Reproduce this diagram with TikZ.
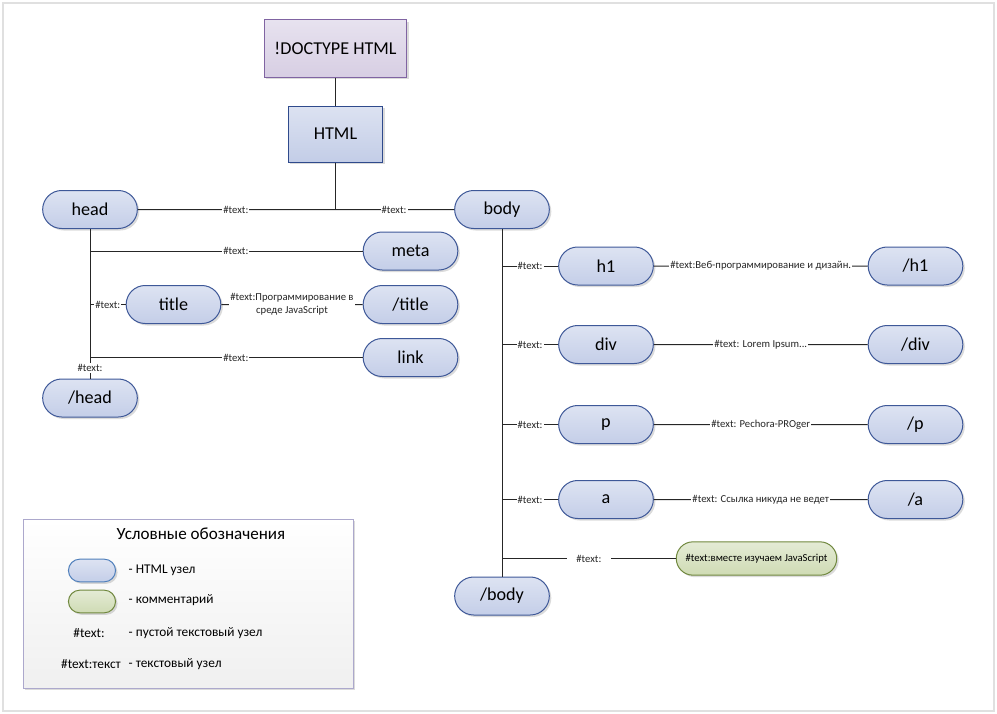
\documentclass[tikz,border=0pt]{standalone}
\usepackage{fontspec}
\setmainfont{Carlito}
\usetikzlibrary{shapes.misc,shadows}
\definecolor{tagTop}{RGB}{221,227,242}
\definecolor{tagBot}{RGB}{196,206,232}
\definecolor{tagLine}{RGB}{62,88,152}
\definecolor{docTop}{RGB}{231,226,239}
\definecolor{docBot}{RGB}{215,206,227}
\definecolor{docLine}{RGB}{128,100,162}
\definecolor{htmlTop}{RGB}{220,226,241}
\definecolor{htmlBot}{RGB}{195,205,231}
\definecolor{htmlLine}{RGB}{47,74,140}
\definecolor{comTop}{RGB}{228,235,213}
\definecolor{comBot}{RGB}{207,219,180}
\definecolor{comLine}{RGB}{112,136,62}
\definecolor{keyLine}{RGB}{80,128,188}
\definecolor{boxLine}{RGB}{172,168,204}
\begin{document}
\begin{tikzpicture}[x=0.75pt, y=-0.75pt,
    every node/.style={font=\fontsize{13.6}{16}\selectfont},
    softshadow/.style={drop shadow={shadow xshift=1.5pt, shadow yshift=-1.5pt, fill=black, opacity=0.14}},
    tag/.style={rounded rectangle, draw=tagLine, line width=0.75pt, top color=tagTop, bottom color=tagBot,
      minimum width=71pt, minimum height=28.5pt, inner sep=0pt, softshadow},
    txt/.style={fill=white, inner sep=0.8pt, font=\fontsize{8}{9.4}\selectfont},
    key/.style={font=\fontsize{10}{12}\selectfont},
    link/.style={line width=0.75pt, black!85}]
    \useasboundingbox (0,0) rectangle (997,714);
    % Frame
    \draw[black!12, line width=1.2pt] (3,3) rectangle (994,711);
    % Top boxes
    \node[draw=docLine, line width=0.75pt, top color=docTop, bottom color=docBot, minimum width=107pt,
      minimum height=43pt, softshadow] (doctype) at (335.5,48.5) {!DOCTYPE HTML};
    \node[draw=htmlLine, line width=0.75pt, top color=htmlTop, bottom color=htmlBot, minimum width=71pt,
      minimum height=42pt, softshadow] (html) at (335.5,134) {HTML};
    % Head side
    \node[tag] (head) at (90,209.5) {head};
    \node[tag] (body) at (502,209.5) {body};
    \node[tag] (meta) at (410.5,251) {meta};
    \node[tag] (title) at (173.5,304.5) {title};
    \node[tag] (titleEnd) at (410.5,304.5) {/title};
    \node[tag] (linkTag) at (410.5,357.5) {link};
    \node[tag] (headEnd) at (90,398) {/head};
    % Body side
    \node[tag] (h1) at (606,266) {h1};
    \node[tag] (h1End) at (915.5,266) {/h1};
    \node[tag] (div) at (606,344.5) {div};
    \node[tag] (divEnd) at (915.5,344.5) {/div};
    \node[tag] (p) at (606,424.5) {p};
    \node[tag] (pEnd) at (915.5,424.5) {/p};
    \node[tag] (a) at (606,499.5) {a};
    \node[tag] (aEnd) at (915.5,499.5) {/a};
    \node[rounded rectangle, draw=comLine, line width=0.75pt, top color=comTop, bottom color=comBot,
      minimum width=127pt, minimum height=25pt, softshadow, font=\fontsize{8}{9.4}\selectfont]
      (comment) at (756.5,558.5) {\#text:вместе изучаем JavaScript};
    \node[tag] (bodyEnd) at (502,596) {/body};
    % Connectors
    \draw[link] (doctype) -- (html);
    \draw[link] (html.south) -- (html.south |- head);
    \draw[link] (head) -- node[txt, pos=0.31] {\#text:} node[txt, pos=0.81] {\#text:} (body);
    \draw[link] (head.south) -- node[txt, pos=0.93] {\#text:} (headEnd.north);
    \draw[link] (head.south |- meta) -- node[txt, pos=0.535] {\#text:} (meta.west);
    \draw[link] (head.south |- title) -- node[txt] {\#text:} (title.west);
    \draw[link] (title) -- node[txt, align=center] {\#text:Программирование в\\среде JavaScript} (titleEnd);
    \draw[link] (head.south |- linkTag) -- node[txt, pos=0.535] {\#text:} (linkTag.west);
    \draw[link] (body.south) -- (bodyEnd.north);
    \draw[link] (body.south |- h1) -- node[txt] {\#text:} (h1.west);
    \draw[link] (h1) -- node[txt] {\#text:Веб-программирование и дизайн.} (h1End);
    \draw[link] (body.south |- div) -- node[txt] {\#text:} (div.west);
    \draw[link] (div) -- node[txt] {\#text: Lorem Ipsum...} (divEnd);
    \draw[link] (body.south |- p) -- node[txt] {\#text:} (p.west);
    \draw[link] (p) -- node[txt] {\#text: Pechora-PROger} (pEnd);
    \draw[link] (body.south |- a) -- node[txt] {\#text:} (a.west);
    \draw[link] (a) -- node[txt] {\#text: Ссылка никуда не ведет} (aEnd);
    \draw[link] (body.south |- comment) -- node[txt, inner xsep=7pt] {\#text:} (comment.west);
    % Legend
    \node[draw=boxLine, line width=0.75pt, top color=white, bottom color=black!6, minimum width=247.5pt,
      minimum height=126.75pt, inner sep=0pt, softshadow] (legend) at (188,603.5) {};
    \node[font=\fontsize{12.8}{15}\selectfont] (legendTitle) at (201,534) {Условные обозначения};
    \node[rounded rectangle, draw=keyLine, line width=0.75pt, top color=tagTop, bottom color=tagBot,
      minimum width=42pt, minimum height=17pt, softshadow] (keyTag) at (92,570.5) {};
    \node[rounded rectangle, draw=comLine, line width=0.75pt, top color=comTop, bottom color=comBot,
      minimum width=42pt, minimum height=17pt, softshadow] (keyComment) at (92,601.5) {};
    \node[key, anchor=west] (keyTagText) at (124,570) {- HTML узел};
    \node[key, anchor=west] (keyCommentText) at (124,600.5) {- комментарий};
    \node[key] (keyEmpty) at (89,633) {\#text:};
    \node[key, anchor=west] (keyEmptyText) at (124,633) {- пустой текстовый узел};
    \node[key] (keyText) at (91,664) {\#text:текст};
    \node[key, anchor=west] (keyTextText) at (124,664) {- текстовый узел};
\end{tikzpicture}
\end{document}
